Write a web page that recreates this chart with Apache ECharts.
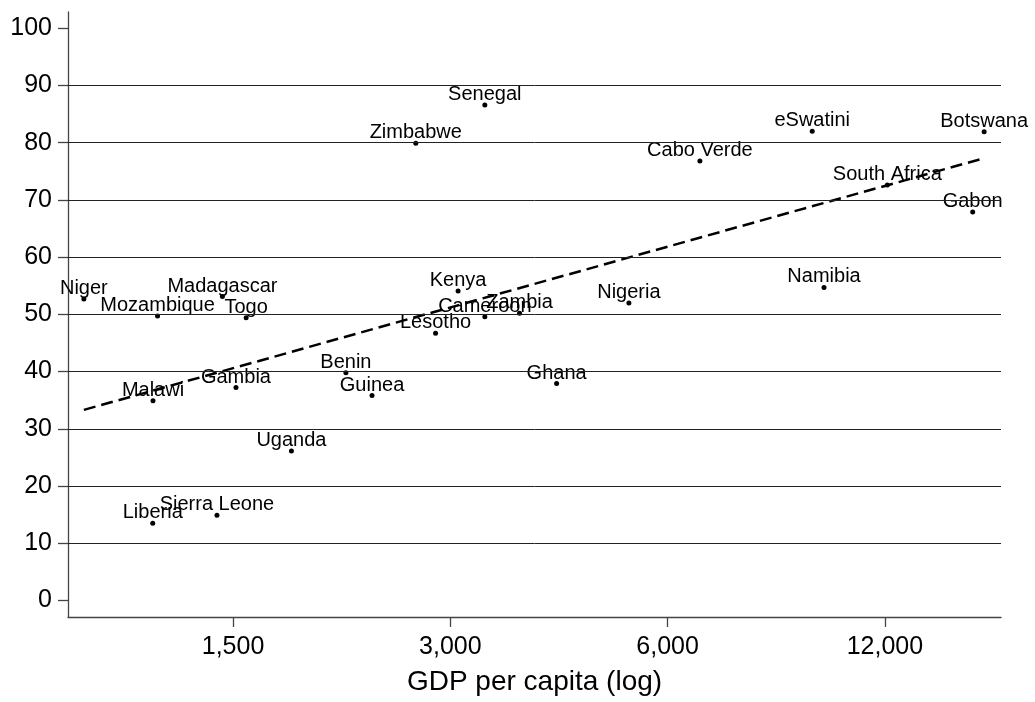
<!DOCTYPE html>
<html>
<head>
<meta charset="utf-8">
<script src="https://cdn.jsdelivr.net/npm/echarts@6/dist/echarts.min.js"></script>
<style>
html,body{margin:0;padding:0;background:#fff;}
#chart{width:1035px;height:702px;}
</style>
</head>
<body>
<div id="chart"></div>
<script>
const countries = ["Niger","Mozambique","Madagascar","Togo","Malawi","Gambia","Uganda","Liberia","Sierra Leone","Benin","Guinea","Lesotho","Kenya","Cameroon","Zambia","Zimbabwe","Senegal","Ghana","Nigeria","Cabo Verde","eSwatini","Namibia","South Africa","Gabon","Botswana"];
const gdp = [932,1179,1450,1564,1162,1514,1807,1161,1425,2150,2337,2862,3075,3349,3741,2687,3349,4211,5303,6651,9518,9882,12093,15880,16470];
const score = [52.7,49.7,53.1,49.4,34.9,37.2,26.1,13.5,14.9,39.8,35.8,46.7,54.1,49.6,50.2,79.9,86.6,37.9,52.0,76.8,82.0,54.7,72.6,67.9,81.9];
const fitGdp = [932,16470];
const fitScore = [33.3,77.3];
const xTicks = [1500,3000,6000,12000];
const yTicks = [0,10,20,30,40,50,60,70,80,90,100];
const gridValues = [10,20,30,40,50,60,70,80,90];

const FONT = 'Liberation Sans, Arial, Helvetica, sans-serif';
const chart = echarts.init(document.getElementById('chart'));
const pts = gdp.map((g,i)=>[Math.log2(g), score[i], countries[i]]);
const fit = fitGdp.map((g,i)=>[Math.log2(g), fitScore[i]]);

chart.setOption({
  animation:false,
  backgroundColor:'#fff',
  grid:{left:68, right:34, top:12, bottom:85},
  xAxis:{
    type:'value', min:Math.log2(886), max:Math.log2(17380),
    axisLine:{show:true, onZero:false, lineStyle:{color:'#444', width:1.3}},
    axisTick:{show:true, customValues:xTicks.map(Math.log2), length:10, lineStyle:{color:'#444', width:1.3}},
    axisLabel:{customValues:xTicks.map(Math.log2), formatter:v=>Math.round(Math.pow(2,v)).toLocaleString('en-US'), fontSize:25, color:'#000', margin:18, fontFamily:FONT},
    splitLine:{show:false},
    name:'GDP per capita (log)', nameLocation:'middle', nameGap:51,
    nameTextStyle:{fontSize:28, color:'#000', fontFamily:FONT}
  },
  yAxis:{
    type:'value', min:-2.9, max:102.85,
    axisLine:{show:true, onZero:false, lineStyle:{color:'#444', width:1.3}},
    axisTick:{show:true, customValues:yTicks, length:10, lineStyle:{color:'#444', width:1.3}},
    axisLabel:{customValues:yTicks, fontSize:25, color:'#000', margin:16, fontFamily:FONT},
    splitLine:{show:false}
  },
  series:[
    {
      type:'scatter', data:pts, symbolSize:5, z:2,
      itemStyle:{color:'#000', opacity:1},
      label:{show:true, position:'top', distance:-2, formatter:p=>p.data[2], fontSize:20, color:'#000', opacity:1, textBorderWidth:0, fontFamily:FONT},
      emphasis:{disabled:true},
      markLine:{silent:true, symbol:'none', label:{show:false},
        lineStyle:{color:'#222', width:1, type:'solid'},
        data:gridValues.map(v=>({yAxis:v}))}
    },
    {
      type:'line', data:fit, symbol:'none', z:3,
      lineStyle:{color:'#000', width:2.5, type:[12,6]}
    }
  ]
});
</script>
</body>
</html>
